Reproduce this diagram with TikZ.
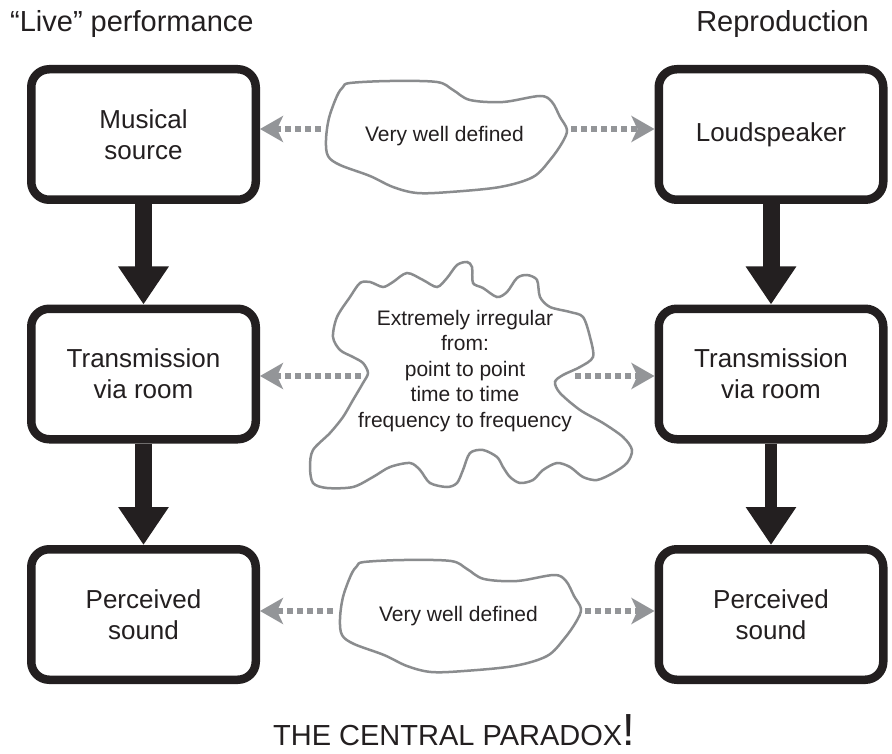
\documentclass[tikz,border=0pt]{standalone}
\usepackage{fontspec}
\setmainfont{Liberation Sans}
\usetikzlibrary{arrows.meta}
\definecolor{ink}{HTML}{231F20}
\definecolor{arrowgray}{HTML}{939598}
\definecolor{cloudgray}{HTML}{8A8C8E}
\tikzset{
  box/.style={draw=ink, line width=8.5pt, rounded corners=18pt, minimum width=224.5pt,
    minimum height=130.5pt, inner sep=0pt, align=center, text=ink,
    font=\fontsize{26}{31}\selectfont},
  flow/.style={draw=ink, line width=17pt, -{Triangle[length=38pt,width=48pt]}},
  flowthin/.style={flow, line width=12pt},
  link/.style={draw=arrowgray, line width=6pt, dash pattern=on 6pt off 4pt,
    -{Stealth[length=23pt,width=26pt,inset=6pt]}},
  cloudline/.style={draw=cloudgray, line width=2.5pt, fill=white},
  cloudtext/.style={text=ink, align=center, font=\fontsize{21}{25.5}\selectfont},
  title/.style={text=ink, font=\fontsize{29}{35}\selectfont, inner sep=0pt}
}
\begin{document}
\begin{tikzpicture}[x=1pt, y=-1pt]
\useasboundingbox (0,0) rectangle (892,754);
\fill[white] (0,0) rectangle (892,754);

% titles
\node[title, anchor=base west] (tl) at (10,32) {“Live” performance};
\node[title, anchor=base east] (tr) at (869,32) {Reproduction};

% boxes
\node[box] (L1) at (143.5,134.5) {Musical\\source};
\node[box] (L2) at (143.5,374) {Transmission\\via room};
\node[box] (L3) at (143.5,614.5) {Perceived\\sound};
\node[box] (R1) at (771,134.5) {Loudspeaker};
\node[box] (R2) at (771,374) {Transmission\\via room};
\node[box] (R3) at (771,614.5) {Perceived\\sound};

% black flow arrows
\draw[flow] (L1.south) -- (L2.north);
\draw[flow] (L2.south) -- (L3.north);
\draw[flow] (R1.south) -- (R2.north);
\draw[flowthin] (R2.south) -- (R3.north);

% clouds
\path[cloudline] plot[smooth cycle, tension=0.55] coordinates {
  (350,83) (390,81) (437,82) (453,90) (470,100) (503,102) (540,96) (552,102)
  (560,117) (567,130) (562,143) (550,160) (533,177) (500,187) (450,192)
  (417,193) (393,187) (370,176) (340,165) (328,156) (326,140) (329,118)
  (337,96) (343,87)};
\node[cloudtext, anchor=base] (c1) at (444.5,142) {Very well defined};

\begin{scope}[shift={(14,479)}]
\path[cloudline] plot[smooth cycle, tension=0.55] coordinates {
  (350,83) (390,81) (437,82) (453,90) (470,100) (503,102) (540,96) (552,102)
  (560,117) (567,130) (562,143) (550,160) (533,177) (500,187) (450,192)
  (417,193) (393,187) (370,176) (340,165) (328,156) (326,140) (329,118)
  (337,96) (343,87)};
\end{scope}
\node[cloudtext, anchor=base] (c3) at (458.5,621) {Very well defined};

\path[cloudline] plot[smooth cycle, tension=0.5] coordinates {
  (333,337) (337,317) (350,297) (360,283) (370,282) (383,287) (393,282)
  (407,273) (423,280) (437,287) (447,278) (457,265) (467,262) (472,267)
  (473,283) (483,288) (497,297) (507,292) (517,278) (527,275) (537,280)
  (540,297) (550,307) (570,312) (583,317) (590,337) (593,357) (580,367)
  (563,375) (555,382) (560,393) (580,410) (603,423) (623,437) (632,450)
  (627,463) (613,473) (597,480) (583,477) (570,467) (557,463) (543,470)
  (533,480) (520,483) (510,477) (503,467) (497,457) (483,450) (470,453)
  (463,470) (457,483) (447,487) (430,483) (420,470) (410,463) (390,467)
  (373,477) (353,487) (327,488) (313,483) (310,467) (313,450) (330,433)
  (343,417) (353,400) (363,383) (368,373) (363,363) (353,357) (340,350)};
\node[cloudtext] (c2) at (465,371) {Extremely irregular\\from:\\point to point\\time to time\\frequency to frequency};

% gray dotted arrows
\coordinate (t1) at (321,129);
\coordinate (t2) at (571,129);
\coordinate (m1) at (361,376);
\coordinate (m2) at (575,376);
\coordinate (b1) at (333,611);
\coordinate (b2) at (585,611);
\draw[link] (t1) -- (L1.east |- t1);
\draw[link] (t2) -- (R1.west |- t2);
\draw[link] (m1) -- (L2.east |- m1);
\draw[link] (m2) -- (R2.west |- m2);
\draw[link] (b1) -- (L3.east |- b1);
\draw[link] (b2) -- (R3.west |- b2);

% bottom caption
\node[title, anchor=base] (cap) at (454,745) {THE CENTRAL PARADOX{\fontsize{45}{45}\selectfont !}};
\end{tikzpicture}
\end{document}
